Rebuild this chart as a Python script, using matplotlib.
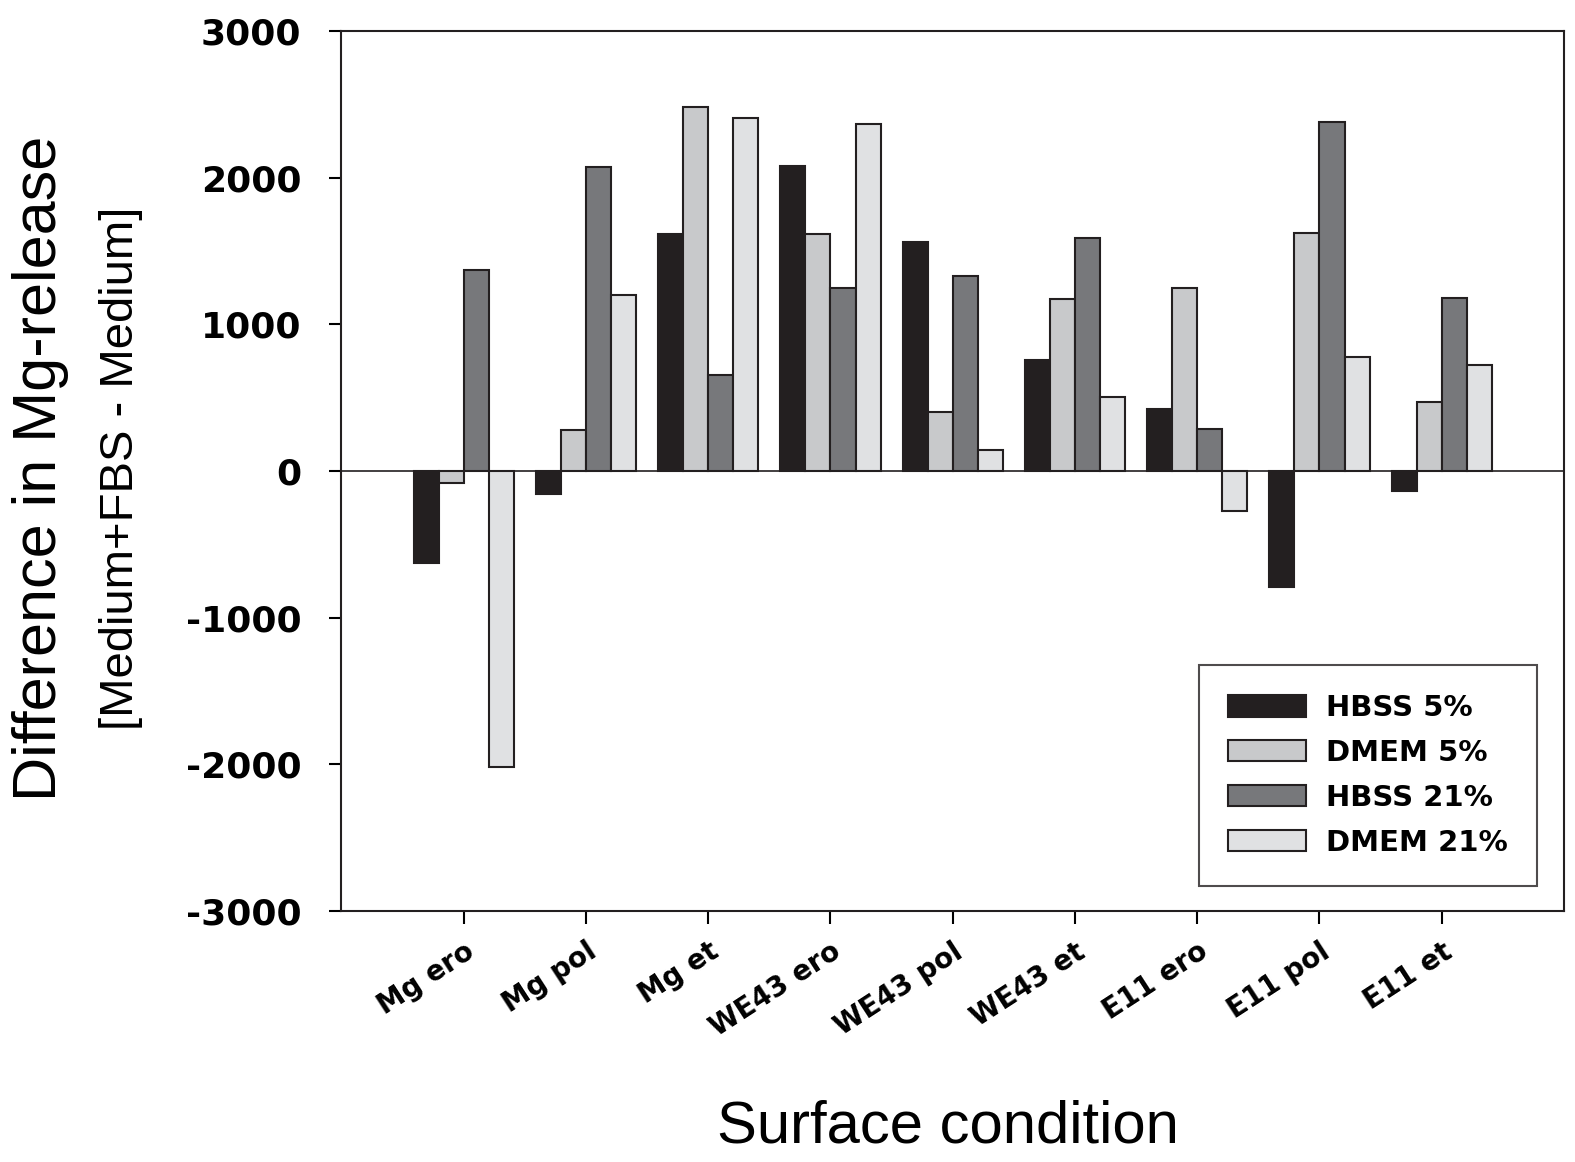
import matplotlib.pyplot as plt
import numpy as np

plt.rcParams['font.family'] = ['Liberation Sans', 'DejaVu Sans']
plt.rcParams['axes.unicode_minus'] = False

conditions = ["Mg ero", "Mg pol", "Mg et", "WE43 ero", "WE43 pol",
              "WE43 et", "E11 ero", "E11 pol", "E11 et"]
series_names = ["HBSS 5%", "DMEM 5%", "HBSS 21%", "DMEM 21%"]
hbss_5 = [-630, -160, 1615, 2080, 1560, 760, 420, -790, -135]
dmem_5 = [-80, 280, 2485, 1615, 400, 1170, 1250, 1625, 470]
hbss_21 = [1370, 2075, 655, 1250, 1330, 1590, 285, 2380, 1180]
dmem_21 = [-2020, 1200, 2405, 2370, 140, 505, -275, 780, 725]

colors = ["#231f20", "#c8c9cb", "#77787b", "#e0e1e3"]
bold_font = {"family": "DejaVu Sans", "weight": "bold"}

fig = plt.figure(figsize=(15.75, 11.62), dpi=100)
ax = fig.add_axes([0.2168, 0.2161, 0.7762, 0.7571])

x = np.arange(1, len(conditions) + 1)
w = 0.205
for i, (vals, name) in enumerate(zip([hbss_5, dmem_5, hbss_21, dmem_21], series_names)):
    ax.bar(x + (i - 1.5) * w, vals, width=w, color=colors[i], edgecolor="#231f20",
           linewidth=1.5, label=name, zorder=2)

ax.axhline(0, color="#231f20", linewidth=1.2, zorder=3)
ax.set_xlim(0, 10)
ax.set_ylim(-3000, 3000)
ax.set_yticks([-3000, -2000, -1000, 0, 1000, 2000, 3000])
ax.set_xticks(x)
ax.set_xticklabels(conditions, rotation=33, ha="right", rotation_mode="anchor",
                   fontsize=20, **bold_font)
ax.set_yticklabels([str(v) for v in ax.get_yticks().astype(int)],
                   fontsize=26, **bold_font)
ax.tick_params(axis="y", direction="out", length=9, width=1.5, pad=20)
ax.tick_params(axis="x", direction="out", length=9, width=1.5, pad=10)
for sp in ax.spines.values():
    sp.set_linewidth(1.5)
    sp.set_color("#231f20")

leg = ax.legend(loc="lower right", bbox_to_anchor=(0.978, 0.0285),
                prop={"family": "DejaVu Sans", "weight": "bold", "size": 21},
                frameon=True, fancybox=False, edgecolor="#231f20",
                handlelength=2.65, handleheight=0.76, labelspacing=0.58,
                borderpad=1.0, handletextpad=0.7, borderaxespad=0)
leg.get_frame().set_linewidth(1.5)

fig.text(0.602, 0.030, "Surface condition", ha="center", va="center", fontsize=43)
fig.text(0.026, 0.597, "Difference in Mg-release", rotation=90, ha="center",
         va="center", fontsize=44)
fig.text(0.077, 0.597, "[Medium+FBS - Medium]", rotation=90, ha="center",
         va="center", fontsize=34)

fig.savefig("out.png", dpi=100)
